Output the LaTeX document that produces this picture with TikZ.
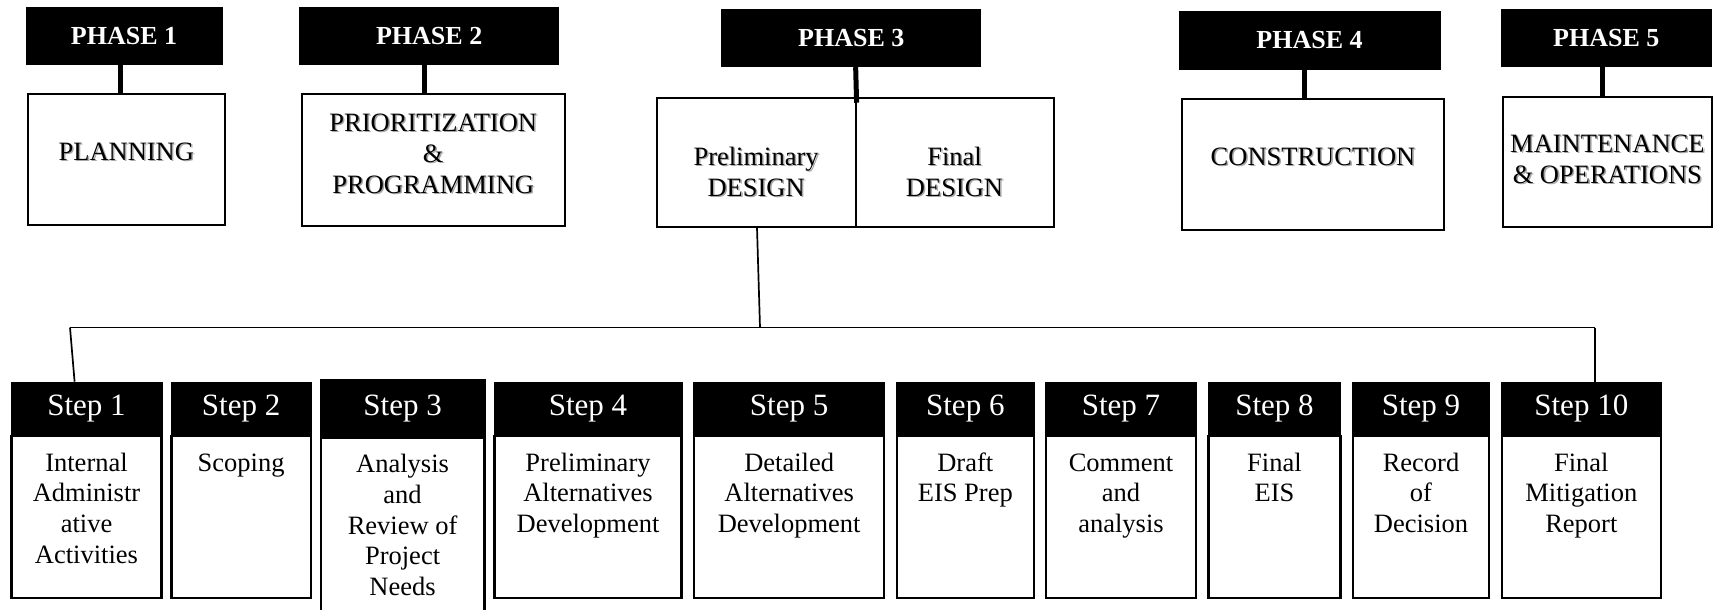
\documentclass[tikz,border=0pt]{standalone}
\usepackage{fontspec}
\setmainfont{Liberation Serif}

% text with a soft grey drop shadow
\newcommand\shd[1]{\leavevmode\rlap{\kern1.5pt\raisebox{-1.5pt}{\textcolor{black!35}{#1}}}#1}
\newcommand\bodyfont{\fontsize{26.5}{30.7}\selectfont}

\tikzset{
  phasehead/.style={fill=black, draw=black, line width=1pt, text=white, inner sep=0pt,
                    font=\fontsize{26}{30}\selectfont\bfseries},
  phasebox/.style={draw=black, line width=2pt, inner sep=0pt},
  phasetext/.style={align=center, inner sep=0pt, font=\fontsize{26.5}{31}\selectfont},
  phaselink/.style={line width=5pt},
  stephead/.style={fill=black, draw=black, line width=2pt, text=white, inner sep=0pt,
                   font=\fontsize{31}{36}\selectfont},
  stepbody/.style={draw=black, line width=2.2pt, inner sep=0pt, anchor=north},
  treeline/.style={line width=1.7pt},
}

% box by its edges: name, left, top, right, bottom, style, text
\newcommand\mkbox[7]{%
  \pgfmathsetmacro\bw{#4-#2}%
  \pgfmathsetmacro\bhh{#5-#3}%
  \pgfmathsetmacro\bx{(#2+#4)/2}%
  \pgfmathsetmacro\by{(#3+#5)/2}%
  \node[#6, minimum width=\bw pt, minimum height=\bhh pt] (#1) at (\bx,\by) {#7};%
}

% step column: id, left, right, head top, head bottom, body bottom, label, body text
\newcommand\mkstep[8]{%
  \pgfmathsetmacro\sw{#3-#2}%
  \pgfmathsetmacro\sx{(#2+#3)/2}%
  \pgfmathsetmacro\sy{(#4+#5)/2}%
  \pgfmathsetmacro\hh{#5-#4}%
  \pgfmathsetmacro\bh{#6-#5}%
  \node[stephead, minimum width=\sw pt, minimum height=\hh pt] (h#1) at (\sx,\sy) {#7};%
  \node[stepbody] (b#1) at (\sx,#5)
    {\parbox[t][\bh pt][t]{\sw pt}{\centering\bodyfont\rule{0pt}{35pt}#8}};%
}

\begin{document}
\begin{tikzpicture}[x=1pt,y=-1pt]
\useasboundingbox (0,0) rectangle (1723,610);
\clip (0,0) rectangle (1723,610);

% ---- phases ----
\mkbox{p1}{26}{7.3}{222}{64.3}{phasehead}{PHASE 1}
\mkbox{b1}{27.6}{94.3}{225}{225.3}{phasebox}{}
\mkbox{p2}{299.7}{7.3}{558.7}{64.3}{phasehead}{PHASE 2}
\mkbox{b2}{302}{94.3}{564.5}{226}{phasebox}{}
\mkbox{p3}{721.7}{9.3}{980.8}{66.7}{phasehead}{PHASE 3}
\mkbox{pre}{656.6}{97.7}{855.6}{226.7}{phasebox}{}
\mkbox{fin}{855.6}{97.7}{1053.5}{226.7}{phasebox}{}
\mkbox{p4}{1179}{11.7}{1440}{69.3}{phasehead}{PHASE 4}
\mkbox{b4}{1182}{99.3}{1444}{230}{phasebox}{}
\mkbox{p5}{1501.6}{9.3}{1711}{66.7}{phasehead}{PHASE 5}
\mkbox{b5}{1502.7}{96.7}{1712}{226.7}{phasebox}{}

\node[phasetext] (t1) at (126.3,152.3) {\shd{PLANNING}};
\node[phasetext] (t2) at (433.25,154.2) {\shd{PRIORITIZATION}\\\shd{\&}\\\shd{PROGRAMMING}};
\node[phasetext] (t3a) at (756.1,172.4) {\shd{Preliminary}\\\shd{DESIGN}};
\node[phasetext] (t3b) at (954.5,172.4) {\shd{Final}\\\shd{DESIGN}};
\node[phasetext] (t4) at (1313,157.2) {\shd{CONSTRUCTION}};
\node[phasetext] (t5) at (1607.35,159.7) {\shd{MAINTENANCE}\\\shd{\& OPERATIONS}};

\draw[phaselink] ([xshift=-4pt]p1.south) -- ([xshift=-4pt]p1.south |- b1.north);
\draw[phaselink] ([xshift=-5pt]p2.south) -- ([xshift=-5pt]p2.south |- b2.north);
\draw[phaselink] ([xshift=4.4pt]p3.south) -- ([yshift=-6pt]pre.north east);
\draw[phaselink] ([xshift=-5pt]p4.south) -- ([xshift=-5pt]p4.south |- b4.north);
\draw[phaselink] ([xshift=-4pt]p5.south) -- ([xshift=-4pt]p5.south |- b5.north);

% ---- steps ----
\mkstep{1}{11.5}{161.5}{382.7}{435}{596.7}{Step 1}{Internal\\ Administr\\ ative\\ Activities}
\mkstep{2}{171.5}{310.8}{382.7}{435}{596.7}{Step 2}{Scoping}
\mkstep{3}{320.7}{484.5}{380}{436.7}{650}{Step 3}{Analysis\\ and\\ Review of\\ Project\\ Needs}
\mkstep{4}{494.5}{681.5}{382.7}{435}{596.7}{Step 4}{Preliminary\\ Alternatives\\ Development}
\mkstep{5}{694}{884.3}{382.7}{435}{596.7}{Step 5}{Detailed\\ Alternatives\\ Development}
\mkstep{6}{897}{1033.6}{382.7}{435}{596.7}{Step 6}{Draft\\ EIS Prep}
\mkstep{7}{1046}{1196}{382.7}{435}{596.7}{Step 7}{Comment\\ and\\ analysis}
\mkstep{8}{1208.5}{1340.4}{382.7}{435}{596.7}{Step 8}{Final\\ EIS}
\mkstep{9}{1352.8}{1489.2}{382.7}{435}{596.7}{Step 9}{Record\\ of\\ Decision}
\mkstep{10}{1502}{1660.6}{382.7}{435}{596.7}{Step 10}{Final\\ Mitigation\\ Report}

% ---- tree from preliminary design to the steps ----
\coordinate (hl) at (70,327.5);
\coordinate (hr) at (1595,327.5);
\coordinate (hm) at (760,327.5);
\draw[treeline] (hl) -- (hr);
\draw[treeline] ([xshift=0.9pt]pre.south) -- (hm);
\draw[treeline] (hl) -- ([xshift=-11.9pt]h1.north);
\draw[treeline] (hr) -- ([xshift=13.7pt]h10.north);
\end{tikzpicture}
\end{document}
